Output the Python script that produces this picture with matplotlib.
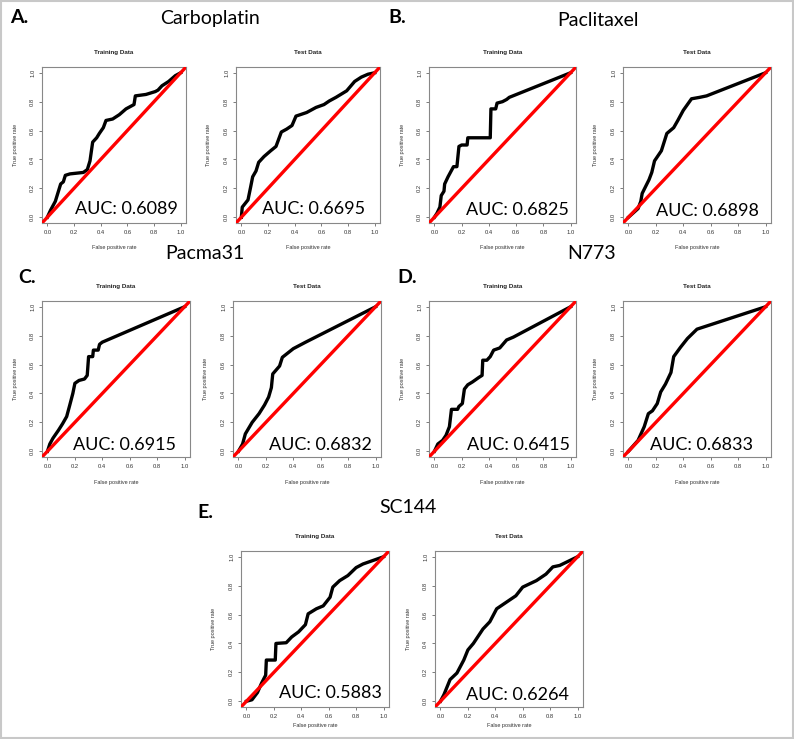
import matplotlib
matplotlib.use("Agg")
import matplotlib.pyplot as plt
from matplotlib.patches import Rectangle

W, H = 794, 739

# ---------------- data ----------------
drugs = ["Carboplatin", "Paclitaxel", "Pacma31", "N773", "SC144"]
panel_letters = ["A.", "B.", "C.", "D.", "E."]
subsets = ["Training Data", "Test Data"]

a_train_fpr = [0, 0.025, 0.06, 0.10, 0.12, 0.135, 0.17, 0.27, 0.30, 0.32, 0.34, 0.37, 0.39, 0.42, 0.44, 0.49, 0.54, 0.59, 0.65, 0.66, 0.74, 0.81, 0.83, 0.86, 0.91, 0.96, 1.0]
a_train_tpr = [0, 0.05, 0.11, 0.23, 0.245, 0.29, 0.30, 0.31, 0.33, 0.39, 0.52, 0.55, 0.58, 0.62, 0.67, 0.68, 0.71, 0.75, 0.78, 0.84, 0.85, 0.87, 0.88, 0.91, 0.94, 0.98, 1.0]
a_test_fpr = [0, 0.007, 0.05, 0.07, 0.085, 0.11, 0.13, 0.17, 0.22, 0.26, 0.30, 0.34, 0.38, 0.41, 0.49, 0.56, 0.62, 0.66, 0.71, 0.79, 0.85, 0.90, 0.95, 1.0]
a_test_tpr = [0, 0.07, 0.12, 0.21, 0.28, 0.32, 0.38, 0.42, 0.46, 0.49, 0.59, 0.61, 0.635, 0.70, 0.725, 0.76, 0.78, 0.805, 0.83, 0.875, 0.94, 0.97, 0.99, 1.0]

b_train_fpr = [0, 0.02, 0.04, 0.05, 0.07, 0.075, 0.10, 0.14, 0.165, 0.18, 0.20, 0.24, 0.245, 0.41, 0.415, 0.45, 0.46, 0.50, 0.53, 0.55, 1.0]
b_train_tpr = [0, 0.03, 0.07, 0.15, 0.18, 0.23, 0.28, 0.35, 0.35, 0.49, 0.50, 0.50, 0.55, 0.55, 0.75, 0.75, 0.79, 0.80, 0.815, 0.83, 1.0]
b_test_fpr = [0, 0.07, 0.09, 0.10, 0.15, 0.17, 0.19, 0.24, 0.26, 0.28, 0.33, 0.36, 0.40, 0.46, 0.52, 0.57, 1.0]
b_test_tpr = [0, 0.06, 0.11, 0.165, 0.26, 0.31, 0.39, 0.46, 0.52, 0.58, 0.62, 0.67, 0.74, 0.82, 0.83, 0.84, 1.0]

c_train_fpr = [0, 0.017, 0.04, 0.08, 0.11, 0.14, 0.16, 0.185, 0.20, 0.23, 0.27, 0.29, 0.30, 0.33, 0.335, 0.37, 0.38, 0.40, 1.0]
c_train_tpr = [0, 0.05, 0.09, 0.145, 0.19, 0.24, 0.31, 0.40, 0.47, 0.49, 0.50, 0.525, 0.655, 0.655, 0.70, 0.70, 0.74, 0.755, 1.0]
c_test_fpr = [0, 0.03, 0.05, 0.10, 0.15, 0.19, 0.22, 0.24, 0.25, 0.30, 0.32, 0.40, 0.49, 1.0]
c_test_tpr = [0, 0.05, 0.12, 0.20, 0.26, 0.32, 0.375, 0.44, 0.535, 0.59, 0.65, 0.71, 0.755, 1.0]

d_train_fpr = [0, 0.025, 0.06, 0.085, 0.11, 0.125, 0.17, 0.18, 0.205, 0.22, 0.245, 0.28, 0.325, 0.35, 0.355, 0.385, 0.41, 0.435, 0.48, 0.53, 0.58, 1.0]
d_train_tpr = [0, 0.05, 0.075, 0.11, 0.17, 0.29, 0.29, 0.31, 0.33, 0.43, 0.46, 0.48, 0.51, 0.525, 0.63, 0.63, 0.655, 0.70, 0.715, 0.77, 0.79, 1.0]
d_test_fpr = [0, 0.07, 0.115, 0.145, 0.175, 0.21, 0.235, 0.27, 0.31, 0.33, 0.38, 0.43, 0.50, 1.0]
d_test_tpr = [0, 0.075, 0.17, 0.26, 0.28, 0.33, 0.41, 0.465, 0.545, 0.655, 0.72, 0.78, 0.845, 1.0]

e_train_fpr = [0, 0.04, 0.08, 0.11, 0.14, 0.145, 0.21, 0.215, 0.29, 0.33, 0.38, 0.43, 0.45, 0.51, 0.56, 0.61, 0.63, 0.68, 0.74, 0.80, 0.85, 1.0]
e_train_tpr = [0, 0.01, 0.06, 0.125, 0.18, 0.285, 0.285, 0.40, 0.405, 0.445, 0.48, 0.53, 0.605, 0.64, 0.66, 0.72, 0.79, 0.835, 0.87, 0.925, 0.95, 1.0]
e_test_fpr = [0, 0.025, 0.07, 0.12, 0.17, 0.20, 0.24, 0.31, 0.36, 0.41, 0.48, 0.55, 0.60, 0.70, 0.77, 0.82, 0.87, 1.0]
e_test_tpr = [0, 0.045, 0.15, 0.195, 0.285, 0.355, 0.40, 0.50, 0.55, 0.64, 0.685, 0.73, 0.79, 0.835, 0.88, 0.93, 0.94, 1.0]

auc_train = ["0.6089", "0.6825", "0.6915", "0.6415", "0.5883"]
auc_test = ["0.6695", "0.6898", "0.6832", "0.6833", "0.6264"]

tick_values = [0.0, 0.2, 0.4, 0.6, 0.8, 1.0]
tick_labels = ["0.0", "0.2", "0.4", "0.6", "0.8", "1.0"]

curves = [
    ((a_train_fpr, a_train_tpr), (a_test_fpr, a_test_tpr)),
    ((b_train_fpr, b_train_tpr), (b_test_fpr, b_test_tpr)),
    ((c_train_fpr, c_train_tpr), (c_test_fpr, c_test_tpr)),
    ((d_train_fpr, d_train_tpr), (d_test_fpr, d_test_tpr)),
    ((e_train_fpr, e_train_tpr), (e_test_fpr, e_test_tpr)),
]

# ---------------- layout (pixels) ----------------
axes_px = [
    [(42, 67, 144, 156), (236, 67, 144, 156)],
    [(429, 67, 147, 156), (623, 67, 148, 156)],
    [(42, 301, 148, 156), (233, 301, 148, 156)],
    [(429, 301, 147, 156), (623, 301, 148, 156)],
    [(241, 551, 148, 156), (435, 551, 148, 156)],
]
auc_pos = [
    [(0.594, 0.02), (0.543, 0.02)],
    [(0.613, 0.016), (0.577, 0.005)],
    [(0.564, 0.01), (0.595, 0.01)],
    [(0.614, 0.01), (0.536, 0.007)],
    [(0.61, 0.02), (0.565, 0.007)],
]
drug_pos = [(210, 24), (598, 26), (205, 259), (592, 259), (408, 513)]
letter_pos = [(10, 23), (388, 23), (18, 283), (397, 283), (197, 518)]
xlabel_off = [25, 25, 26, 26, 18]

fig = plt.figure(figsize=(W / 100, H / 100), dpi=100)
fig.patch.set_facecolor("white")

big_font = ["Lato", "DejaVu Sans"]
small_font = ["Liberation Sans", "DejaVu Sans"]

for p in range(5):
    for s in range(2):
        l, t, w, h = axes_px[p][s]
        ax = fig.add_axes([l / W, 1 - (t + h) / H, w / W, h / H])
        fpr, tpr = curves[p][s]
        ax.plot(fpr, tpr, color="black", lw=2.4, solid_joinstyle="round", zorder=2)
        ax.axline((0, 0), (1, 1), color="#ff0000", lw=2.4, zorder=3)
        ax.set_xlim(-0.04, 1.04)
        ax.set_ylim(-0.04, 1.04)
        ax.set_xticks(tick_values)
        ax.set_xticklabels(tick_labels)
        ax.set_yticks(tick_values)
        ax.set_yticklabels(tick_labels, rotation=90, va="center")
        ax.tick_params(labelsize=4.2, length=2.5, width=0.6, pad=2.5,
                       colors="#666666", labelcolor="#333333")
        for lab in ax.get_xticklabels() + ax.get_yticklabels():
            lab.set_family(small_font)
        for sp in ax.spines.values():
            sp.set_linewidth(0.8)
            sp.set_color("#888888")
        ax.text(0.5, 1.095, subsets[s], transform=ax.transAxes, ha="center",
                va="center", fontsize=4.5, fontweight="bold", family=small_font,
                color="#222222")
        ax.text(0.5, -xlabel_off[p] / h, "False positive rate", transform=ax.transAxes,
                ha="center", va="center", fontsize=4, family=small_font, color="#333333")
        ax.text(-27 / w, 0.5, "True positive rate", transform=ax.transAxes,
                ha="center", va="center", rotation=90, fontsize=4,
                family=small_font, color="#333333")
        auc = auc_train[p] if s == 0 else auc_test[p]
        ax.text(auc_pos[p][s][0], auc_pos[p][s][1], "AUC: " + auc, ha="center",
                va="baseline", fontsize=13, family=big_font, color="black", zorder=5)

    dx, dy = drug_pos[p]
    fig.text(dx / W, 1 - dy / H, drugs[p], ha="center", va="baseline",
             fontsize=14, family=big_font, color="black")
    lx, ly = letter_pos[p]
    fig.text(lx / W, 1 - ly / H, panel_letters[p], ha="left", va="baseline",
             fontsize=14, fontweight="bold", family=big_font, color="black")

fig.add_artist(Rectangle((0.001, 0.001), 0.998, 0.998, transform=fig.transFigure,
                         fill=False, edgecolor="#c8c8c8", lw=1.5))

fig.savefig("out.png", dpi=100, facecolor="white")
